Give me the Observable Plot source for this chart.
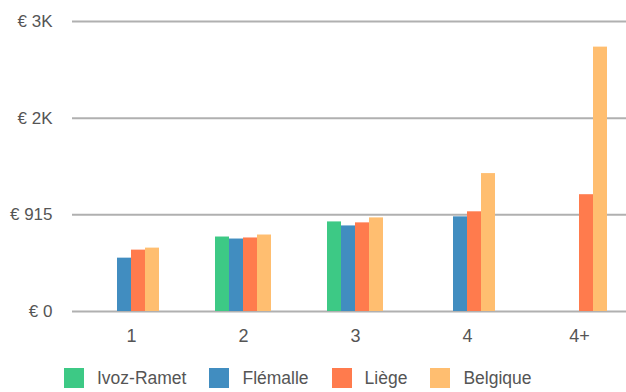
<!DOCTYPE html>
<html>
<head>
<meta charset="utf-8">
<script src="https://cdn.jsdelivr.net/npm/d3@7"></script>
<script src="https://cdn.jsdelivr.net/npm/@observablehq/plot@0.6"></script>
<style>
  html, body { margin: 0; padding: 0; background: #fff; overflow: hidden; }
  #chart { width: 626px; font-family: "Liberation Sans", Arial, sans-serif; }
  .legend { display: flex; align-items: center; height: 20px; margin-top: 13px; padding-left: 64px; color: #555; font-size: 17.5px; }
  .legend .item { display: flex; align-items: center; margin-right: 23px; }
  .legend .sw { width: 20px; height: 20px; margin-right: 13px; }
</style>
</head>
<body>
<div id="chart"></div>
<script>
// Household size categories
const categories = ["1", "2", "3", "4", "4+"];
// Areas compared
const series = ["Ivoz-Ramet", "Flémalle", "Liège", "Belgique"];
const colors = ["#3dc985", "#418dc0", "#ff7b4d", "#ffbe70"];

// Amounts in euros per category (null = no data)
const ivozRamet = [null, 705, 848, null, null];
const flemalle  = [505, 686, 810, 896, null];
const liege     = [581, 696, 839, 949, 1141];
const belgique  = [600, 724, 886, 1378, 2735];

// Y axis ticks and their labels
const yTicks = [0, 915, 2000, 3000];
const yTickLabels = ["€ 0", "€ 915", "€ 2K", "€ 3K"];

const valuesBySeries = [ivozRamet, flemalle, liege, belgique];

// The value axis is piecewise: each tick interval gets the same height
const piecewise = d3.scaleLinear().domain(yTicks).range(yTicks.map((_, i) => i));

// Each series takes one quarter of its category band
const barWidth = 14;
const seriesBars = series.map((s, j) => {
  const rows = categories
    .map((c, i) => ({category: c, value: valuesBySeries[j][i]}))
    .filter((d) => d.value != null);
  return Plot.barY(rows, {
    x: "category",
    y: "value",
    fill: colors[j],
    insetLeft: j * barWidth,
    insetRight: (series.length - 1 - j) * barWidth
  });
});

const yTickRows = yTicks.map((v, i) => ({value: v, label: yTickLabels[i]}));

const plot = Plot.plot({
  width: 626,
  height: 355,
  marginLeft: 72,
  marginRight: 0,
  marginTop: 21,
  marginBottom: 44,
  style: {fontFamily: "'Liberation Sans', Arial, sans-serif", color: "#555", background: "#fff"},
  x: {domain: categories, range: [74, 626], paddingInner: 0.5, paddingOuter: 0.209, align: 0.6, label: null},
  y: {domain: [0, yTicks.length - 1], transform: piecewise, axis: null},
  marks: [
    Plot.ruleY(yTicks, {stroke: "#b0b0b0", strokeWidth: 2}),
    ...seriesBars,
    // value labels on the left of each gridline
    Plot.text(yTickRows, {y: "value", text: "label", frameAnchor: "left", textAnchor: "end", dx: -20, fontSize: 17, fill: "#555"}),
    Plot.axisX({tickSize: 0, tickPadding: 18, fontSize: 18, label: null})
  ]
});
document.getElementById("chart").appendChild(plot);

// Legend below the chart
const legend = document.createElement("div");
legend.className = "legend";
series.forEach((s, i) => {
  const item = document.createElement("div");
  item.className = "item";
  const sw = document.createElement("span");
  sw.className = "sw";
  sw.style.background = colors[i];
  const label = document.createElement("span");
  label.textContent = s;
  item.append(sw, label);
  legend.appendChild(item);
});
document.getElementById("chart").appendChild(legend);
</script>
</body>
</html>
